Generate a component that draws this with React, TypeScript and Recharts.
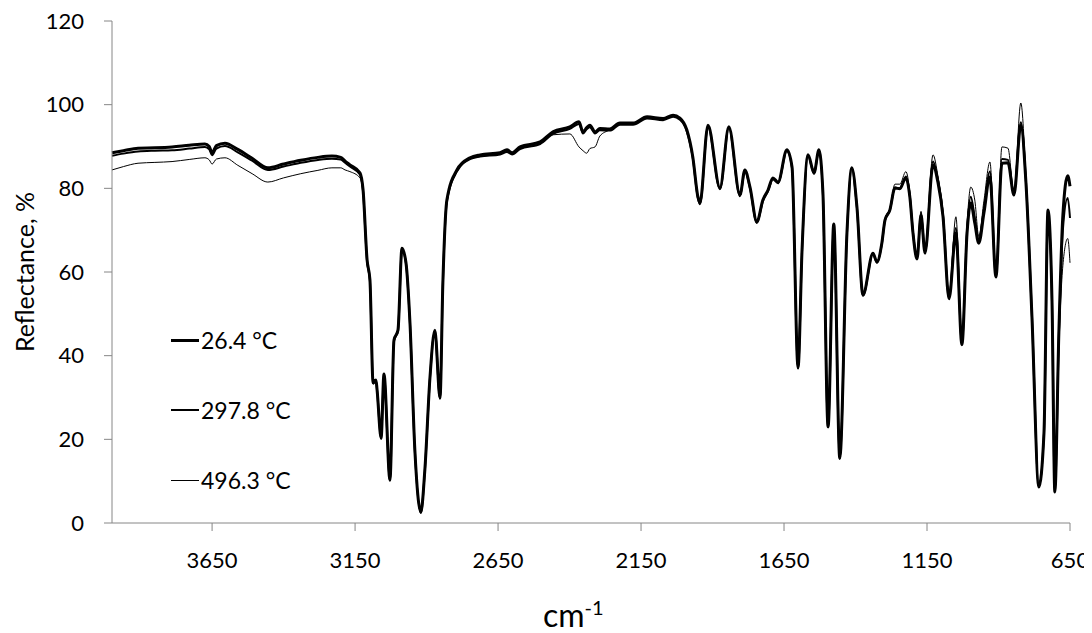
import React from 'react'
import { Label, Line, LineChart, XAxis, YAxis } from 'recharts'

// wavenumber, cm-1 (descending)
const wavenumbers = [
  4000, 3960, 3909, 3850, 3790, 3730, 3675, 3660, 3650, 3635, 3605, 3560, 3510, 3455, 3400, 3340,
  3280, 3231, 3200, 3185, 3168, 3133, 3122, 3108, 3098, 3087, 3077, 3073, 3059, 3049, 3028, 3014,
  3000, 2986, 2972, 2958, 2941, 2920, 2906, 2888, 2871, 2853, 2843, 2829, 2794, 2748, 2713, 2643,
  2619, 2601, 2573, 2503, 2458, 2399, 2367, 2353, 2340, 2329, 2311, 2294, 2259, 2224, 2178, 2129,
  2073, 2038, 2014, 1990, 1969, 1951, 1944, 1916, 1874, 1843, 1804, 1787, 1769, 1745, 1724, 1706,
  1689, 1671, 1640, 1622, 1601, 1587, 1566, 1545, 1528, 1514, 1496, 1476, 1455, 1430, 1413, 1395,
  1374, 1339, 1325, 1308, 1297, 1280, 1262, 1245, 1224, 1210, 1199, 1185, 1171, 1157, 1129, 1112,
  1094, 1073, 1049, 1028, 1010, 997, 983, 969, 951, 930, 909, 888, 867, 846, 822, 804,
  783, 759, 741, 727, 713, 703, 689, 675, 658, 650,
]

// 26.4 °C
const r264 = [
  88.5, 89.0, 89.6, 89.7, 89.9, 90.3, 90.6, 90.0, 88.5, 90.2, 90.8, 89.3, 87.2, 84.9, 85.8, 86.7,
  87.4, 87.7, 87.4, 86.5, 85.6, 83.7, 79.6, 62.9, 58.1, 33.5, 34.2, 31.8, 20.3, 35.6, 10.3, 43.7,
  46.1, 65.7, 62.2, 47.8, 17.5, 2.6, 12.7, 34.9, 46.1, 29.9, 57.4, 77.2, 84.4, 87.3, 88.0, 88.5,
  89.2, 88.5, 89.9, 91.1, 93.5, 94.7, 95.9, 93.5, 94.5, 95.1, 93.5, 94.3, 94.2, 95.6, 95.6, 97.1,
  96.7, 97.5, 96.8, 94.0, 87.5, 77.9, 76.5, 95.1, 80.1, 94.7, 78.4, 84.4, 80.3, 72.0, 77.2, 79.6,
  82.5, 81.5, 89.2, 85.1, 37.1, 65.3, 88.0, 83.7, 89.2, 78.9, 23.0, 71.5, 15.5, 69.3, 84.9, 75.5,
  54.5, 64.5, 62.4, 66.9, 72.4, 74.8, 80.1, 79.9, 82.5, 77.9, 69.3, 63.1, 73.6, 64.5, 85.6, 81.5,
  73.2, 53.6, 69.3, 42.6, 69.3, 76.5, 71.7, 66.9, 74.1, 82.7, 58.8, 86.0, 86.1, 78.4, 95.1, 81.3,
  49.2, 8.6, 21.5, 74.8, 53.3, 7.4, 45.4, 73.5, 83.0, 80.5,
]

// 297.8 °C
const r2978 = [
  87.8, 88.3, 88.8, 89.0, 89.1, 89.5, 89.9, 89.3, 87.9, 89.5, 90.1, 88.6, 86.6, 84.4, 85.2, 86.1,
  86.8, 87.1, 86.9, 86.1, 85.2, 83.3, 79.2, 62.5, 57.8, 33.3, 34.0, 31.6, 20.1, 35.4, 10.1, 43.5,
  45.9, 65.4, 62.0, 47.6, 17.3, 2.4, 12.5, 34.7, 45.9, 29.7, 57.2, 76.8, 84.0, 87.0, 87.6, 88.1,
  88.7, 88.1, 89.4, 90.6, 93.0, 94.2, 95.4, 93.1, 94.1, 94.6, 93.1, 93.9, 93.8, 95.2, 95.2, 96.7,
  96.3, 97.1, 96.4, 93.6, 87.2, 77.6, 76.2, 94.8, 79.8, 94.4, 78.1, 84.1, 80.0, 71.7, 76.9, 79.3,
  82.2, 81.2, 88.9, 84.8, 36.9, 65.0, 87.8, 83.4, 89.0, 78.6, 22.8, 71.2, 15.3, 69.1, 84.7, 75.3,
  54.3, 64.3, 62.2, 66.7, 72.3, 74.7, 80.2, 80.0, 82.8, 78.2, 69.5, 63.4, 73.9, 64.8, 86.4, 82.0,
  73.6, 53.9, 70.5, 43.0, 70.0, 78.0, 73.0, 67.5, 75.0, 84.0, 59.0, 87.0, 86.8, 78.8, 95.8, 81.6,
  49.4, 8.6, 21.5, 74.5, 53.0, 7.6, 44.5, 70.0, 77.7, 72.9,
]

// 496.3 °C
const r4963 = [
  84.4, 85.2, 86.0, 86.2, 86.4, 86.9, 87.3, 86.8, 85.8, 87.0, 87.3, 85.5, 83.5, 81.5, 82.5, 83.5,
  84.3, 84.9, 84.9, 84.4, 84.0, 82.5, 79.0, 62.5, 57.8, 33.3, 34.0, 31.6, 20.1, 35.4, 10.1, 43.5,
  45.9, 65.4, 62.0, 47.6, 17.3, 2.4, 12.5, 34.7, 45.9, 29.7, 57.2, 76.6, 84.0, 87.0, 87.6, 88.2,
  88.8, 88.2, 89.5, 90.6, 92.8, 93.0, 89.9, 89.0, 88.4, 89.5, 89.9, 92.5, 94.0, 95.4, 95.3, 96.8,
  96.4, 97.2, 96.5, 93.7, 87.3, 77.7, 76.3, 94.9, 79.9, 94.5, 78.2, 84.2, 80.1, 71.8, 77.0, 79.4,
  82.3, 81.3, 89.0, 84.9, 37.0, 65.1, 88.0, 83.6, 89.2, 78.8, 22.9, 71.4, 15.4, 69.2, 85.0, 75.6,
  54.6, 64.6, 62.5, 67.0, 72.7, 75.2, 81.0, 81.0, 84.0, 79.0, 70.0, 64.0, 74.5, 65.5, 88.0, 83.0,
  74.5, 54.5, 73.2, 44.0, 71.5, 80.3, 77.2, 68.5, 77.0, 86.3, 59.5, 89.9, 89.6, 79.0, 100.4, 82.5,
  49.8, 8.8, 21.8, 74.0, 52.5, 7.8, 42.0, 61.5, 68.0, 62.2,
]

const xTicks = [3650, 3150, 2650, 2150, 1650, 1150, 650]
const yTicks = [0, 20, 40, 60, 80, 100, 120]

const series = [
  { key: 'a', name: '26.4 °C', width: 3 },
  { key: 'b', name: '297.8 °C', width: 2 },
  { key: 'c', name: '496.3 °C', width: 1 },
]

const data = wavenumbers.map((wn, i) => ({ wn, a: r264[i], b: r2978[i], c: r4963[i] }))

const FONT = 'Lato, "Open Sans", sans-serif'
const AXIS = '#868686'

const LegendBox = () => (
  <div style={{ position: 'absolute', left: 163, top: 297, fontFamily: FONT, fontSize: 23, color: '#000' }}>
    {series.map((s) => (
      <div key={s.key} style={{ display: 'flex', alignItems: 'center', height: 70 }}>
        <span style={{ display: 'inline-block', width: 28, borderTop: `${s.width}px solid #000`, marginRight: 2 }} />
        <span>{s.name}</span>
      </div>
    ))}
  </div>
)

const XTitle = (props: any) => {
  const vb = props.viewBox || {}
  const cx = vb.x + vb.width / 2
  return (
    <text x={cx - 48} y={619} fill="#000" fontFamily={FONT} fontSize={32}>
      <tspan>cm</tspan>
      <tspan dy={-12} fontSize={20}>-1</tspan>
    </text>
  )
}

const YTitle = () => (
  <text
    x={16}
    y={264}
    fill="#000"
    fontFamily={FONT}
    fontSize={25}
    textAnchor="middle"
    dominantBaseline="central"
    transform="rotate(-90 16 264)"
  >
    Reflectance, %
  </text>
)

export default function App() {
  return (
    <div style={{ position: 'relative', width: 1084, height: 625 }}>
      <LineChart
        width={1084}
        height={625}
        data={data}
        margin={{ top: 13, right: 22, bottom: 50, left: 24 }}
        style={{ fontFamily: FONT }}
      >
        <XAxis
          dataKey="wn"
          type="number"
          domain={[650, 4000]}
          reversed
          ticks={xTicks}
          interval={0}
          height={60}
          stroke={AXIS}
          tickSize={8}
          tickMargin={21}
          tick={{ fill: '#000', fontSize: 22 }}
        >
          <Label content={<XTitle />} />
        </XAxis>
        <YAxis
          type="number"
          domain={[0, 120]}
          ticks={yTicks}
          interval={0}
          width={80}
          stroke={AXIS}
          tickSize={8}
          tickMargin={20}
          tick={{ fill: '#000', fontSize: 22 }}
        >
          <Label content={<YTitle />} />
        </YAxis>
        {series.map((s) => (
          <Line
            key={s.key}
            dataKey={s.key}
            name={s.name}
            type="monotone"
            stroke="#000"
            strokeWidth={s.width}
            dot={false}
            activeDot={false}
            isAnimationActive={false}
          />
        ))}
      </LineChart>
      <LegendBox />
    </div>
  )
}
